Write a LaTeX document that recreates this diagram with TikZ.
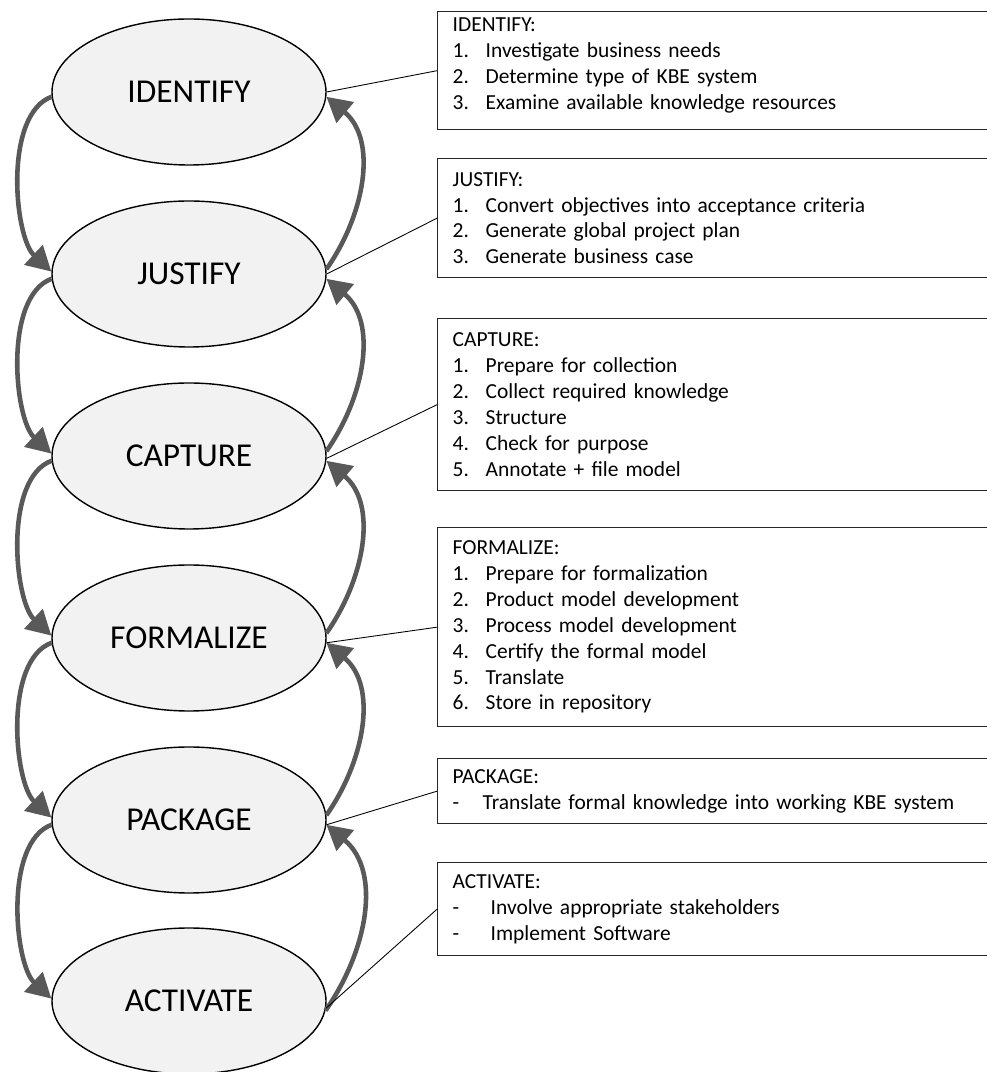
\documentclass[tikz,border=0pt]{standalone}
\usepackage{fontspec}
\setmainfont{Carlito}
\usepackage{tikz}
\usetikzlibrary{arrows.meta,shapes.geometric}
\definecolor{phasefill}{HTML}{F2F2F2}
\definecolor{flowgray}{HTML}{595959}
\newcommand{\itm}[3][0.66cm]{\makebox[#1][l]{#2}#3}

\begin{document}
\begin{tikzpicture}
\tikzset{phase/.style = {shape=ellipse,draw,fill=phasefill,line width=0.8pt,minimum width=5.48cm,minimum height=2.92cm,inner sep=0pt,font=\fontsize{19}{22}\selectfont}}
\tikzset{taskbox/.style = {draw=black!85,line width=0.8pt,anchor=north west,text width=10.42cm,inner xsep=0.3cm,inner ysep=0pt,align=left,font=\fontsize{12.2}{14.7}\selectfont}}
\tikzset{flow/.style = {draw=flowgray,line width=2.6pt,-{Triangle[length=14pt,width=15pt]}}}
\tikzset{link/.style = {-,draw=black,line width=0.5pt}}
\useasboundingbox (0,0) rectangle (19.74,21.44);
% phases
\node[phase] (idn) at (3.78,19.6)  {IDENTIFY};
\node[phase] (jus) at (3.78,15.96) {JUSTIFY};
\node[phase] (cap) at (3.78,12.32) {CAPTURE};
\node[phase] (frm) at (3.78,8.68)  {FORMALIZE};
\node[phase] (pkg) at (3.78,5.04)  {PACKAGE};
\node[phase] (act) at (3.78,1.42)  {ACTIVATE};
% task boxes
\node[taskbox,minimum height=2.36cm] (idnbox) at (8.74,21.22) {IDENTIFY:\\
  \itm{1.}{Investigate business needs}\\
  \itm{2.}{Determine type of KBE system}\\
  \itm{3.}{Examine available knowledge resources}\rule[-0.28cm]{0pt}{0.28cm}};
\node[taskbox,minimum height=2.38cm] (jusbox) at (8.74,18.28) {JUSTIFY:\\
  \itm{1.}{Convert objectives into acceptance criteria}\\
  \itm{2.}{Generate global project plan}\\
  \itm{3.}{Generate business case}};
\node[taskbox,minimum height=3.44cm] (capbox) at (8.74,15.08) {CAPTURE:\\
  \itm{1.}{Prepare for collection}\\
  \itm{2.}{Collect required knowledge}\\
  \itm{3.}{Structure}\\
  \itm{4.}{Check for purpose}\\
  \itm{5.}{Annotate + file model}};
\node[taskbox,minimum height=3.98cm] (frmbox) at (8.74,10.9) {FORMALIZE:\\
  \itm{1.}{Prepare for formalization}\\
  \itm{2.}{Product model development}\\
  \itm{3.}{Process model development}\\
  \itm{4.}{Certify the formal model}\\
  \itm{5.}{Translate}\\
  \itm{6.}{Store in repository}};
\node[taskbox,minimum height=1.3cm] (pkgbox) at (8.74,6.28) {PACKAGE:\\
  \itm[0.6cm]{-}{Translate formal knowledge into working KBE system}};
\node[taskbox,minimum height=1.86cm] (actbox) at (8.74,4.2) {ACTIVATE:\\
  \itm[0.76cm]{-}{Involve appropriate stakeholders}\\
  \itm[0.76cm]{-}{Implement Software}};
% downward arrows (left)
\draw[flow] (idn.182) to[out=200,in=137,looseness=0.75] (jus.179);
\draw[flow] (jus.182) to[out=200,in=137,looseness=0.75] (cap.179);
\draw[flow] (cap.182) to[out=200,in=137,looseness=0.75] (frm.179);
\draw[flow] (frm.182) to[out=200,in=137,looseness=0.75] (pkg.179);
\draw[flow] (pkg.182) to[out=200,in=137,looseness=0.75] (act.179);
% upward arrows (right)
\draw[flow] (jus.2) to[out=55,in=-40] (idn.-2);
\draw[flow] (cap.2) to[out=55,in=-40] (jus.-2);
\draw[flow] (frm.2) to[out=55,in=-40] (cap.-2);
\draw[flow] (pkg.2) to[out=55,in=-40] (frm.-2);
\draw[flow] (act.-4) to[out=55,in=-40] (pkg.-2);
% links to boxes
\draw[link] (idn.east) -- (idnbox.west);
\draw[link] (jus.east) -- (jusbox.west);
\draw[link] (cap.-1) -- (capbox.west);
\draw[link] (frm.-2) -- (frmbox.west);
\draw[link] (pkg.-2) -- (pkgbox.west);
\draw[link] (act.-3) -- (actbox.west);
\end{tikzpicture}
\end{document}
